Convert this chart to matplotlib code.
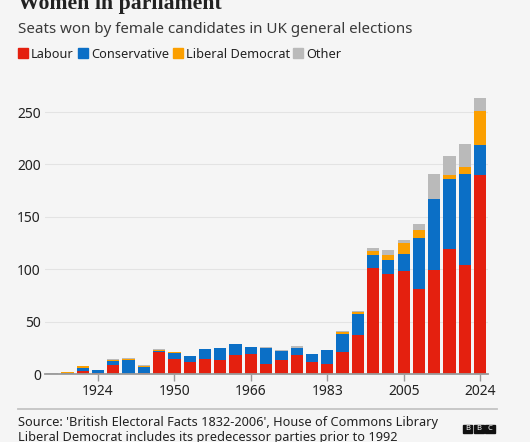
import matplotlib.pyplot as plt
from matplotlib.patches import Rectangle
import numpy as np

# seats won by women, per general election
elections = ['1918', '1922', '1923', '1924', '1929', '1931', '1935', '1945', '1950',
             '1951', '1955', '1959', '1964', '1966', '1970', 'Feb 1974', 'Oct 1974',
             '1979', '1983', '1987', '1992', '1997', '2001', '2005', '2010', '2015',
             '2017', '2019', '2024']
labour = [0, 0, 3, 1, 9, 0, 1, 21, 14, 11, 14, 13, 18, 19, 10, 13, 18, 11, 10, 21,
          37, 101, 95, 98, 81, 99, 119, 104, 190]
conservative = [0, 1, 3, 3, 3, 13, 6, 1, 6, 6, 10, 12, 11, 7, 15, 9, 7, 8, 13, 17,
                20, 13, 14, 17, 49, 68, 67, 87, 29]
lib_dem = [0, 1, 2, 0, 1, 1, 1, 1, 1, 0, 0, 0, 0, 0, 0, 0, 0, 0, 0, 2,
           2, 3, 5, 10, 7, 0, 4, 7, 32]
other = [1, 0, 0, 0, 1, 1, 1, 1, 0, 0, 0, 0, 0, 0, 1, 1, 2, 0, 0, 1,
         1, 3, 4, 3, 6, 24, 18, 22, 12]
tick_years = ['1924', '1950', '1966', '1983', '2005', '2024']

parties = ['Labour', 'Conservative', 'Liberal Democrat', 'Other']
colours = ['#e4200f', '#0b6fc6', '#fb9f00', '#bababa']

plt.rcParams['font.family'] = ['Noto Sans', 'DejaVu Sans']
bg = '#f5f5f5'
W, H = 530, 442

def fx(x):
    return x / W

def fy(y):
    return 1 - y / H

fig = plt.figure(figsize=(W / 100, H / 100), dpi=100, facecolor=bg)
ax = fig.add_axes([fx(45), fy(374), fx(488) - fx(45), fy(88) - fy(374)])
ax.set_facecolor(bg)

x = np.arange(len(elections))
bottom = np.zeros(len(elections))
for name, vals, col in zip(parties, [labour, conservative, lib_dem, other], colours):
    ax.bar(x, vals, 0.8, bottom=bottom, color=col, label=name, zorder=2)
    bottom += np.array(vals)

ax.set_xlim(-0.47, 28.52)
ax.set_ylim(0, 273)
ax.set_yticks([0, 50, 100, 150, 200, 250])
ax.grid(axis='y', color='#e3e3e3', linewidth=0.8, zorder=0)
for s in ['top', 'right', 'left']:
    ax.spines[s].set_visible(False)
ax.spines['bottom'].set_color('#9a9a9a')
ax.spines['bottom'].set_linewidth(1.3)
ax.spines['bottom'].set_zorder(3)

ax.set_xticks([elections.index(t) for t in tick_years])
ax.set_xticklabels(tick_years)
ax.tick_params(axis='x', length=5, width=1, color='#9a9a9a', pad=2,
               labelsize=10, labelcolor='#222222')
ax.tick_params(axis='y', length=0, pad=3, labelsize=10, labelcolor='#222222')

# titles
fig.text(fx(18), fy(9.3), 'Women in parliament', fontsize=15.7, fontweight='bold',
         family=['Liberation Serif'], color='#222222', va='baseline')
fig.text(fx(18), fy(33), 'Seats won by female candidates in UK general elections',
         fontsize=10.9, color='#3a3a3a', va='baseline')

# legend
leg_x = [18, 78, 173, 293]
for lx, name, col in zip(leg_x, parties, colours):
    fig.patches.append(Rectangle((fx(lx), fy(58)), fx(10), 10 / H, color=col,
                                 transform=fig.transFigure, figure=fig))
    fig.text(fx(lx + 13), fy(58.5), name, fontsize=9.2, color='#222222', va='baseline')

# footer
fig.add_artist(plt.Line2D([fx(18), fx(497)], [fy(409), fy(409)], color='#c4c4c4',
                          linewidth=1.3, transform=fig.transFigure))
fig.text(fx(18), fy(426), "Source: 'British Electoral Facts 1832-2006', House of Commons Library",
         fontsize=9.2, color='#222222', va='baseline')
fig.text(fx(18), fy(441), 'Liberal Democrat includes its predecessor parties prior to 1992',
         fontsize=9.2, color='#222222', va='baseline')

for i, letter in enumerate('BBC'):
    bx = 462.7 + i * 11.3
    fig.patches.append(Rectangle((fx(bx), fy(433)), fx(9.7), 8 / H, color='#111111',
                                 transform=fig.transFigure, figure=fig))
    fig.text(fx(bx + 4.85), fy(429), letter, fontsize=5.5, fontweight='bold',
             color='white', ha='center', va='center')

fig.savefig('out.png', dpi=100, facecolor=bg)
